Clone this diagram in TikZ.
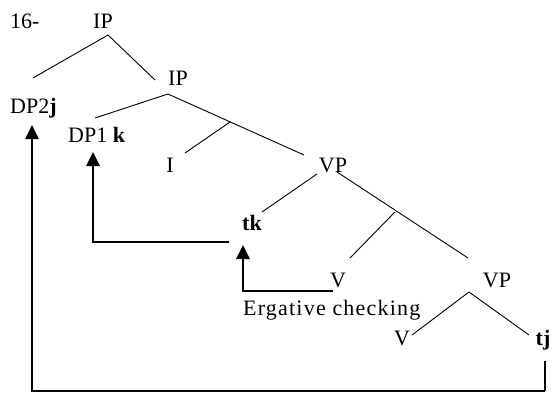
\documentclass[tikz,border=0pt]{standalone}
\usepackage{fontspec}
\setmainfont{Liberation Serif}
\usetikzlibrary{arrows.meta}
\begin{document}
\begin{tikzpicture}[x=1pt,y=-1pt,
  lbl/.style={inner sep=0pt,anchor=base,font=\fontsize{22}{26}\selectfont},
  branch/.style={line width=0.9pt},
  moveline/.style={line width=2.6pt},
  thinline/.style={line width=1.1pt},
  midline/.style={line width=1.8pt},
  movetip/.style={-{Triangle[width=13pt,length=14pt]}}]
\useasboundingbox (0,0) rectangle (552,394);

% labels
\node[lbl,anchor=base west] (num) at (10,28) {16-};
\node[lbl] (ipA) at (103,28) {IP};
\node[lbl] (ipB) at (178,85) {IP};
\node[lbl,anchor=base west] (dp2) at (10,113) {DP2\textbf{j}};
\node[lbl,anchor=base west] (dp1) at (68,142) {DP1 \textbf{k}};
\node[lbl] (infl) at (170,172) {I};
\node[lbl] (vpA) at (333,172) {VP};
\node[lbl,anchor=base west] (tk) at (242,230) {\textbf{tk}};
\node[lbl] (vA) at (338,287) {V};
\node[lbl] (vpB) at (497,287) {VP};
\node[lbl,anchor=base west] (erg) at (243,315) {\addfontfeatures{LetterSpace=5.5}Ergative checking};
\node[lbl] (vB) at (402,345) {V};
\node[lbl] (tj) at (543,345) {\textbf{tj}};

% branch points and branch ends
\coordinate (ipA-top) at (108,35);
\coordinate (ipA-l) at (33,78);
\coordinate (ipA-r) at (155,80);
\coordinate (ipB-top) at (168,94);
\coordinate (ipB-l) at (95,118);
\coordinate (ipB-r) at (304,155);
\coordinate (ibar) at (230,122);
\coordinate (infl-top) at (185,153);
\coordinate (vpA-tl) at (317,174);
\coordinate (vpA-l) at (262,212);
\coordinate (vpA-tr) at (337,172);
\coordinate (vpA-r) at (468,258);
\coordinate (vbar) at (395,212);
\coordinate (vA-top) at (350,258);
\coordinate (vpB-top) at (469,292);
\coordinate (vpB-l) at (412,335);
\coordinate (vpB-r) at (529,335);

% tree
\draw[branch] (ipA-l) -- (ipA-top) -- (ipA-r);
\draw[branch] (ipB-l) -- (ipB-top) -- (ipB-r);
\draw[branch] (ibar) -- (infl-top);
\draw[branch] (vpA-tl) -- (vpA-l);
\draw[branch] (vpA-tr) -- (vpA-r);
\draw[branch] (vbar) -- (vA-top);
\draw[branch] (vpB-l) -- (vpB-top) -- (vpB-r);

% movement paths
\coordinate (tj-foot) at (545,361);
\coordinate (tj-corner) at (545,391);
\coordinate (dp2-corner) at (32,391);
\coordinate (dp2-tip) at (32,125);
\coordinate (tk-start) at (229,242);
\coordinate (dp1-corner) at (93,242);
\coordinate (dp1-tip) at (93,152);
\coordinate (v-start) at (333,291);
\coordinate (tk-corner) at (243,291);
\coordinate (tk-tip) at (243,245);

\draw[thinline] (tj-foot) -- (tj-corner);
\draw[midline] (tj-corner) -- (dp2-corner);
\draw[moveline,movetip] ([yshift=-1pt]dp2-corner) -- (dp2-tip);

\draw[thinline] (tk-start) -- (dp1-corner);
\draw[moveline,movetip] ([yshift=-0.5pt]dp1-corner) -- (dp1-tip);

\draw[midline] (v-start) -- (tk-corner);
\draw[moveline,movetip] ([yshift=-0.9pt]tk-corner) -- (tk-tip);
\end{tikzpicture}
\end{document}
